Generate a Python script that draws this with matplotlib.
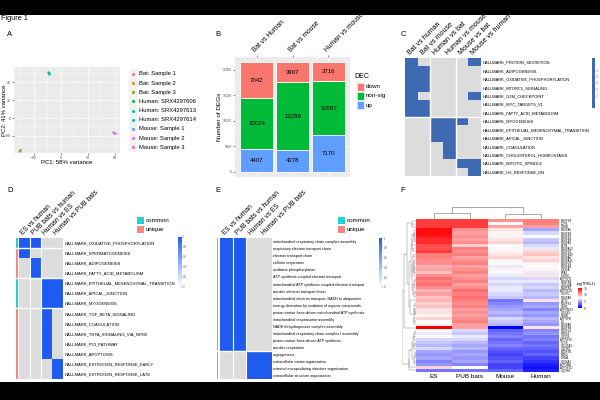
import numpy as np
import matplotlib
matplotlib.use('Agg')
import matplotlib.pyplot as plt
from matplotlib.colors import ListedColormap, LinearSegmentedColormap
from matplotlib.patches import Rectangle

plt.rcParams['font.family'] = ['Liberation Sans', 'DejaVu Sans']

# ---------------- data ----------------
# Panel A: PCA
pca_samples = ['Bat: Sample 1', 'Bat: Sample 2', 'Bat: Sample 3',
               'Human: SRX4297606', 'Human: SRX4297613', 'Human: SRX4297614',
               'Mouse: Sample 1', 'Mouse: Sample 2', 'Mouse: Sample 3']
pca_pc1 = [-46.5, -45.5, -45.0, -14.5, -13.5, -13.0, 58.0, 59.0, 60.0]
pca_pc2 = [-36.5, -36.0, -35.2, 51.2, 50.5, 49.3, -15.5, -16.2, -17.0]
pca_colors = ['#F8766D', '#D39200', '#93AA00', '#00BA38', '#00C19F',
              '#00B9E3', '#619CFF', '#DB72FB', '#FF61C3']

# Panel B: DEGs
deg_comparisons = ['Bat vs Human', 'Bat vs mouse', 'Human vs mouse']
deg_up = [4407, 4278, 7170]
deg_nonsig = [10024, 13288, 10587]
deg_down = [7042, 3907, 3716]
deg_classes = ['down', 'non-sig', 'up']
deg_colors = ['#F8766D', '#00BA38', '#619CFF']

# Panel C
comparisons_c = ['Bat vs human', 'Bat vs mouse', 'Human vs bat',
                 'Human vs mouse', 'Mouse vs bat', 'Mouse vs human']
hallmark_c = ['HALLMARK_PROTEIN_SECRETION', 'HALLMARK_ADIPOGENESIS',
              'HALLMARK_OXIDATIVE_PHOSPHORYLATION', 'HALLMARK_MTORC1_SIGNALING',
              'HALLMARK_G2M_CHECKPOINT', 'HALLMARK_MYC_TARGETS_V1',
              'HALLMARK_FATTY_ACID_METABOLISM', 'HALLMARK_MYOGENESIS',
              'HALLMARK_EPITHELIAL_MESENCHYMAL_TRANSITION', 'HALLMARK_APICAL_JUNCTION',
              'HALLMARK_COAGULATION', 'HALLMARK_CHOLESTEROL_HOMEOSTASIS',
              'HALLMARK_MITOTIC_SPINDLE', 'HALLMARK_UV_RESPONSE_DN']
sig_c = [[1, 0, 0, 0, 0, 1],
         [1, 1, 0, 0, 0, 0],
         [1, 1, 0, 0, 0, 0],
         [1, 1, 0, 0, 0, 0],
         [1, 0, 0, 0, 0, 1],
         [1, 1, 0, 0, 0, 0],
         [1, 1, 0, 0, 0, 0],
         [0, 0, 1, 1, 1, 0],
         [0, 0, 1, 1, 0, 0],
         [0, 0, 1, 1, 0, 0],
         [0, 0, 0, 1, 0, 0],
         [0, 0, 0, 1, 0, 0],
         [0, 0, 0, 0, 1, 1],
         [0, 0, 0, 0, 0, 1]]

# Panels D & E
comparisons_de = ['ES vs human', 'PUB bats vs human', 'Human vs ES', 'Human vs PUB bats']
hallmark_d = ['HALLMARK_OXIDATIVE_PHOSPHORYLATION', 'HALLMARK_SPERMATOGENESIS',
              'HALLMARK_ADIPOGENESIS', 'HALLMARK_FATTY_ACID_METABOLISM',
              'HALLMARK_EPITHELIAL_MESENCHYMAL_TRANSITION', 'HALLMARK_APICAL_JUNCTION',
              'HALLMARK_MYOGENESIS', 'HALLMARK_TGF_BETA_SIGNALING', 'HALLMARK_COAGULATION',
              'HALLMARK_TNFA_SIGNALING_VIA_NFKB', 'HALLMARK_P53_PATHWAY',
              'HALLMARK_APOPTOSIS', 'HALLMARK_ESTROGEN_RESPONSE_EARLY',
              'HALLMARK_ESTROGEN_RESPONSE_LATE']
group_d = ['common', 'unique', 'unique', 'unique', 'common', 'common', 'common',
           'unique', 'unique', 'unique', 'unique', 'unique', 'unique', 'unique']
sig_d = [[1, 1, 0, 0],
         [1, 0, 0, 0],
         [0, 1, 0, 0],
         [0, 1, 0, 0],
         [0, 0, 1, 1],
         [0, 0, 1, 1],
         [0, 0, 1, 1],
         [0, 0, 1, 0],
         [0, 0, 1, 0],
         [0, 0, 1, 0],
         [0, 0, 1, 0],
         [0, 0, 1, 0],
         [0, 0, 0, 1],
         [0, 0, 0, 1]]
go_e = ['mitochondrial respiratory chain complex assembly',
        'respiratory electron transport chain', 'electron transport chain',
        'cellular respiration', 'oxidative phosphorylation',
        'ATP synthesis coupled electron transport',
        'mitochondrial ATP synthesis coupled electron transport',
        'aerobic electron transport chain',
        'mitochondrial electron transport, NADH to ubiquinone',
        'energy derivation by oxidation of organic compounds',
        'proton motive force-driven mitochondrial ATP synthesis',
        'mitochondrial respirasome assembly', 'NADH dehydrogenase complex assembly',
        'mitochondrial respiratory chain complex I assembly',
        'proton motive force-driven ATP synthesis', 'aerobic respiration',
        'angiogenesis', 'extracellular matrix organization',
        'external encapsulating structure organization',
        'extracellular structure organization']
group_e = ['unique'] * 20
sig_e = [[1, 1, 0, 0]] * 16 + [[0, 0, 1, 1]] * 4

# Panel F
samples_f = ['ES', 'PUB bats', 'Mouse', 'Human']
genes_f = ['NDUFS8', 'LDHB', 'SDHB', 'NDUFA2', 'NDUFB2', 'NDUFS6', 'NDUFB9', 'NDUFA3',
           'ETFB', 'NDUFA13', 'NDUFS3', 'NDUFB10', 'NDUFA6', 'NDUFA11', 'NDUFV2',
           'NDUFB3', 'COX5A', 'PPA2', 'COX6C', 'ATP5PO', 'NDUFB4', 'COQ10A', 'NDUFB6',
           'ATP5F1E', 'COX7C', 'NDUFA9', 'GOT2', 'NDUFS1', 'SDHC', 'ATP5MC3', 'COX4I1',
           'PDHB', 'ATP5PB', 'CS', 'NDUFA8', 'NDUFB8', 'NDUFV1', 'PRDX3', 'COX7B',
           'ATP5F1C', 'CYCS', 'SLC25A3', 'UQCRQ', 'NDUFS2', 'MDH2', 'IDH3A', 'COX6A1',
           'ATP5ME', 'ATP5F1D', 'UQCRH']
es_vals = [13.5, 13.5, 13.5, 15.0, 15.0, 14.5, 14.0, 14.0, 13.0, 13.0, 13.5, 11.5, 11.5,
           11.0, 11.0, 10.0, 10.5, 9.5, 11.0, 12.0, 11.5, 12.0, 11.0, 10.0, 10.5, 9.5,
           10.0, 9.0, 9.5, 8.5, 8.5, 8.0, 9.0, 7.5, 8.0, 15.3, 7.5, 7.0, 7.5, 6.5, 6.0,
           5.5, 6.5, 5.0, 4.5, 5.0, 4.0, 4.5, 9.0, 3.5]
pub_vals = [13.5, 13.5, 13.5, 11.0, 10.5, 11.0, 10.5, 11.0, 9.0, 11.5, 11.0, 11.5, 10.5,
            11.0, 11.5, 10.5, 11.0, 11.5, 10.5, 11.0, 11.5, 10.5, 11.0, 12.0, 11.5, 12.0,
            11.5, 11.0, 11.5, 10.5, 11.0, 10.5, 11.0, 11.5, 10.5, 10.5, 6.5, 6.0, 7.0,
            6.5, 5.5, 5.0, 5.5, 4.5, 5.0, 4.5, 5.0, 4.0, 7.5, 3.5]
mouse_vals = [11.0, 7.5, 10.5, 8.5, 8.0, 8.0, 8.5, 9.0, 7.5, 8.0, 8.0, 8.5, 9.0, 8.0,
              7.5, 7.0, 8.0, 7.5, 7.0, 6.5, 7.0, 6.5, 7.0, 7.0, 6.5, 6.0, 3.5, 4.0, 4.5,
              5.0, 5.5, 5.0, 6.5, 6.0, 5.5, 0.0, 3.0, 3.5, 4.0, 3.0, 3.5, 4.0, 3.0, 2.5,
              2.0, 2.5, 3.0, 2.0, 2.0, 3.0]
human_vals = [11.5, 11.5, 10.5, 5.0, 6.5, 7.5, 6.0, 5.5, 6.5, 7.0, 9.0, 9.5, 8.5, 9.0,
              8.0, 7.5, 8.0, 7.0, 8.5, 6.5, 7.0, 6.0, 6.5, 5.5, 6.0, 5.5, 8.5, 4.5, 5.0,
              4.0, 5.0, 4.5, 5.5, 5.0, 4.5, 8.5, 4.0, 4.5, 3.5, 4.0, 3.0, 3.5, 3.0, 2.5,
              3.0, 2.0, 1.5, 1.0, 0.5, 1.0]

# ---------------- helpers ----------------
W, H = 600, 400
fig = plt.figure(figsize=(6, 4), dpi=100)
fig.patch.set_facecolor('white')


def ax_px(x0, y0, x1, y1):
    return fig.add_axes([x0 / W, 1 - y1 / H, (x1 - x0) / W, (y1 - y0) / H])


def txt(x, y, s, **kw):
    return fig.text(x / W, 1 - y / H, s, **kw)


overlay = ax_px(0, 0, 600, 400)
overlay.set_xlim(0, 600)
overlay.set_ylim(400, 0)
overlay.axis('off')
overlay.add_patch(Rectangle((0, 0), 600, 15, fc='black', ec='none'))
overlay.add_patch(Rectangle((0, 382), 600, 18, fc='black', ec='none'))

txt(1, 18.5, 'Figure 1', fontsize=5.3, va='center')
for lab, (x, y) in zip('ABCDEF', [(7, 34), (215, 34), (401, 34), (7, 191), (215, 191), (400, 191)]):
    txt(x, y, lab, fontsize=5.5, va='center')

# ---------------- Panel A ----------------
axA = ax_px(14, 67, 120, 153)
axA.set_facecolor('#EBEBEB')
axA.set_xlim(-52.2, 65.6)
axA.set_ylim(-38.9, 56.7)
axA.set_xticks([-30, 0, 30, 60])
axA.set_yticks([-20, 0, 20, 40])
axA.set_xticks([-45, -15, 15, 45], minor=True)
axA.set_yticks([-30, -10, 10, 30, 50], minor=True)
axA.grid(which='major', color='white', lw=0.5)
axA.grid(which='minor', color='white', lw=0.25)
axA.set_axisbelow(True)
for s in axA.spines.values():
    s.set_visible(False)
axA.tick_params(which='major', length=1.5, width=0.4, color='#333333', labelsize=2.5,
                labelcolor='#4D4D4D', pad=1)
axA.tick_params(which='minor', length=0)
for i in range(len(pca_samples)):
    axA.scatter(pca_pc1[i], pca_pc2[i], s=3, color=pca_colors[i], zorder=3, linewidths=0)
txt(67, 162.5, 'PC1: 58% variance', fontsize=4.3, ha='center', va='center')
txt(4.5, 110, 'PC2: 41% variance', fontsize=4.3, ha='center', va='center', rotation=90)
for i, (name, c) in enumerate(zip(pca_samples, pca_colors)):
    yy = 74 + i * 9.15
    overlay.add_patch(Rectangle((129, yy - 4.55), 8, 9.1, fc='#F2F2F2', ec='none'))
    overlay.plot(133, yy, 'o', ms=2.2, color=c, mec='none')
    txt(139, yy, name, fontsize=4.2, va='center')

# ---------------- Panel B ----------------
axB = ax_px(235, 57, 350, 177)
axB.set_facecolor('#EBEBEB')
xb = np.arange(1, len(deg_comparisons) + 1)
up = np.array(deg_up)
ns = np.array(deg_nonsig)
dn = np.array(deg_down)
for vals, bottom, col in [(up, 0 * up, deg_colors[2]), (ns, up, deg_colors[1]),
                          (dn, up + ns, deg_colors[0])]:
    axB.bar(xb, vals, bottom=bottom, width=0.9, color=col, edgecolor='white', lw=0.6, zorder=2)
    for xi, v, b in zip(xb, vals, bottom):
        axB.text(xi, b + v / 2, str(v), ha='center', va='center', fontsize=4.3, zorder=3)
tot = (up + ns + dn).max()
axB.set_xlim(0.4, 3.6)
axB.set_ylim(-0.05 * tot, 1.05 * tot)
axB.set_yticks([0, 5000, 10000, 15000, 20000])
axB.set_yticklabels(['0', '5000', '10000', '15000', '20000'])
axB.set_yticks([2500, 7500, 12500, 17500], minor=True)
axB.set_xticks(xb)
axB.grid(which='major', color='white', lw=0.5)
axB.grid(which='minor', axis='y', color='white', lw=0.25)
axB.set_axisbelow(True)
for s in axB.spines.values():
    s.set_visible(False)
axB.xaxis.tick_top()
axB.set_xticklabels(deg_comparisons, rotation=45, ha='left', rotation_mode='anchor', fontsize=4.8)
axB.tick_params(axis='y', which='major', length=1.5, width=0.4, color='#333333', labelsize=2.3,
                labelcolor='#4D4D4D', pad=1)
axB.tick_params(axis='x', which='major', length=1.5, width=0.4, color='#333333', pad=1)
axB.tick_params(which='minor', length=0)
txt(220, 117, 'Number of DEGs', fontsize=4.6, ha='center', va='center', rotation=90)
txt(354, 77, 'DEC', fontsize=5, va='center')
for i, (cls, col) in enumerate(zip(deg_classes, deg_colors)):
    yy = 86.7 + i * 9.2
    overlay.add_patch(Rectangle((356, yy - 4.6), 8, 9.2, fc='#F2F2F2', ec='none'))
    overlay.add_patch(Rectangle((356.5, yy - 4.1), 7, 8.2, fc=col, ec='white', lw=0.4))
    txt(366, yy, cls, fontsize=4.5, va='center')

# ---------------- Panel C ----------------
blue_c = '#3E6AB4'
axC = ax_px(405, 58, 481, 176)
mc = np.array(sig_c, dtype=float)
axC.pcolormesh(np.arange(mc.shape[1] + 1), np.arange(mc.shape[0] + 1), mc,
               cmap=ListedColormap(['#DCDCDC', blue_c]), vmin=0, vmax=1)
axC.set_xlim(0, mc.shape[1])
axC.set_ylim(mc.shape[0], 0)
for xg in [2, 4]:
    axC.axvline(xg, color='white', lw=1.0)
axC.axhline(7, color='white', lw=1.0)
for s in axC.spines.values():
    s.set_visible(False)
axC.xaxis.tick_top()
axC.set_xticks(np.arange(mc.shape[1]) + 0.5)
axC.set_xticklabels(comparisons_c, rotation=45, ha='left', rotation_mode='anchor', fontsize=5)
axC.yaxis.tick_right()
axC.set_yticks(np.arange(mc.shape[0]) + 0.5)
axC.set_yticklabels(hallmark_c, fontsize=2.9)
axC.tick_params(length=0, pad=1.2)

cbC = ax_px(592, 58, 595, 108)
cbC.imshow(np.ones((10, 1)), cmap=ListedColormap([blue_c]), aspect='auto',
           extent=(0, 1, 0.98, 1.02))
cbC.set_xticks([])
cbC.yaxis.tick_right()
cbC.set_ylim(0.98, 1.02)
cbC.set_yticks([0.99, 0.995, 1.0, 1.005, 1.01])
cbC.set_yticklabels(['1', '1', '1', '1', '1'], fontsize=1.8)
cbC.tick_params(length=0.8, width=0.3, pad=0.5, colors='#555555')
for s in cbC.spines.values():
    s.set_visible(False)

# ---------------- Panels D & E ----------------
blue_de = '#1F5BEF'
cmap_de = LinearSegmentedColormap.from_list('wb', ['#FFFFFF', blue_de])
cmap_de.set_bad('#DCDCDC')
ann_colors = {'common': '#22D2D2', 'unique': '#F5877E'}


def sig_heatmap(box, ann_box, sig, rows, groups, row_gaps, col_gaps, fs_rows):
    m = np.array(sig, dtype=float)
    m = np.ma.masked_where(m == 0, m)
    ax = ax_px(*box)
    ax.pcolormesh(np.arange(m.shape[1] + 1), np.arange(m.shape[0] + 1), m,
                  cmap=cmap_de, vmin=0, vmax=1)
    ax.set_xlim(0, m.shape[1])
    ax.set_ylim(m.shape[0], 0)
    for g in row_gaps:
        ax.axhline(g, color='white', lw=1.0)
    for g in col_gaps:
        ax.axvline(g, color='white', lw=0.8)
    for s in ax.spines.values():
        s.set_visible(False)
    ax.xaxis.tick_top()
    ax.set_xticks(np.arange(m.shape[1]) + 0.5)
    ax.set_xticklabels(comparisons_de, rotation=45, ha='left', rotation_mode='anchor', fontsize=4.8)
    ax.yaxis.tick_right()
    ax.set_yticks(np.arange(m.shape[0]) + 0.5)
    ax.set_yticklabels(rows, fontsize=fs_rows)
    ax.tick_params(length=0, pad=1.2)
    axa = ax_px(*ann_box)
    gnames = ['common', 'unique']
    gi = np.array([[gnames.index(g)] for g in groups], dtype=float)
    axa.pcolormesh([0, 1], np.arange(len(groups) + 1), gi,
                   cmap=ListedColormap([ann_colors['common'], ann_colors['unique']]), vmin=0, vmax=1)
    axa.set_ylim(len(groups), 0)
    for g in row_gaps:
        axa.axhline(g, color='white', lw=1.0)
    axa.axis('off')


def grad_bar(box, cmap, vmin, vmax, ticks, labels, fs):
    ax = ax_px(*box)
    grad = np.linspace(vmin, vmax, 200)[:, None]
    ax.imshow(grad, aspect='auto', cmap=cmap, vmin=vmin, vmax=vmax, origin='lower',
              extent=(0, 1, vmin, vmax))
    ax.set_xticks([])
    ax.yaxis.tick_right()
    ax.set_yticks(ticks)
    ax.set_yticklabels(labels, fontsize=fs)
    ax.tick_params(length=0.8, width=0.3, pad=0.6, colors='#555555')
    for s in ax.spines.values():
        s.set_visible(False)
    return ax


sig_heatmap((19.3, 237.7, 63.3, 379), (15.7, 237.7, 17.7, 379), sig_d, hallmark_d, group_d,
            [1, 4, 7], [1, 2], 3.0)
grad_bar((178, 237, 181, 287), cmap_de, 0, 1, [0, 0.2, 0.4, 0.6, 0.8, 1],
         ['0', '0.2', '0.4', '0.6', '0.8', '1'], 2.0)
sig_heatmap((220, 238.3, 271.7, 379), (216.7, 238.3, 218.3, 379), sig_e, go_e, group_e,
            [16], [1, 2], 2.7)
grad_bar((379, 238, 382, 287), cmap_de, 0, 1, [0, 0.2, 0.4, 0.6, 0.8, 1],
         ['0', '0.2', '0.4', '0.6', '0.8', '1'], 2.0)
for xk in [137, 338]:
    for i, g in enumerate(['common', 'unique']):
        yy = 220.5 + i * 9
        overlay.add_patch(Rectangle((xk, yy - 3.6), 7, 7.2, fc=ann_colors[g], ec='none'))
        txt(xk + 9, yy, g, fontsize=4.5, va='center')

# ---------------- Panel F ----------------
mf = np.array([es_vals, pub_vals, mouse_vals, human_vals]).T
cmap_f = LinearSegmentedColormap.from_list('bwr_f', ['#0000FF', '#FFFFFF', '#FF0000'])
vmin_f, vmax_f = mf.min(), mf.max()
axF = ax_px(416, 219.3, 559, 371.7)
axF.pcolormesh(np.arange(mf.shape[1] + 1), np.arange(mf.shape[0] + 1), mf,
               cmap=cmap_f, vmin=vmin_f, vmax=vmax_f)
axF.set_xlim(0, mf.shape[1])
axF.set_ylim(mf.shape[0], 0)
for s in axF.spines.values():
    s.set_visible(False)
axF.set_xticks(np.arange(mf.shape[1]) + 0.5)
axF.set_xticklabels(samples_f, fontsize=4.6)
axF.yaxis.tick_right()
axF.set_yticks(np.arange(mf.shape[0]) + 0.5)
axF.set_yticklabels(genes_f, fontsize=2.0)
axF.tick_params(length=0, pad=1)
axF.tick_params(axis='x', pad=1.5)


def adjacent_linkage(data):
    n = data.shape[0]
    dist = np.sqrt(((data[:, None, :] - data[None, :, :]) ** 2).sum(-1))
    clusters = [{'m': [i], 'pos': i + 0.5, 'h': 0.0} for i in range(n)]
    merges = []
    while len(clusters) > 1:
        best = None
        for k in range(len(clusters) - 1):
            a, b = clusters[k], clusters[k + 1]
            d = dist[np.ix_(a['m'], b['m'])].mean()
            if best is None or d < best[0]:
                best = (d, k)
        d, k = best
        a, b = clusters[k], clusters[k + 1]
        h = max(d, a['h'], b['h'])
        merges.append((a['pos'], a['h'], b['pos'], b['h'], h))
        clusters[k:k + 2] = [{'m': a['m'] + b['m'], 'pos': (a['pos'] + b['pos']) / 2, 'h': h}]
    return merges


dcol = '#888888'
row_merges = adjacent_linkage(mf)
axRD = ax_px(402, 219.3, 416, 371.7)
hmax = max(m[4] for m in row_merges)
for pa, ha, pb, hb, h in row_merges:
    axRD.plot([ha, h, h, hb], [pa, pa, pb, pb], color=dcol, lw=0.35)
axRD.set_xlim(hmax * 1.02, 0)
axRD.set_ylim(mf.shape[0], 0)
axRD.axis('off')

col_merges = adjacent_linkage(mf.T)
axCD = ax_px(416, 207, 559, 218.5)
hmax_c = max(m[4] for m in col_merges)
for pa, ha, pb, hb, h in col_merges:
    axCD.plot([pa, pa, pb, pb], [ha, h, h, hb], color=dcol, lw=0.5)
axCD.set_xlim(0, mf.shape[1])
axCD.set_ylim(0, hmax_c * 1.03)
axCD.axis('off')

grad_bar((578, 288, 582, 308), cmap_f, vmin_f, vmax_f, [0, 5, 10, 15],
         ['0', '5', '10', '15'], 2.6)
txt(577, 284, 'log(TPM+1)', fontsize=2.6, va='center')

fig.savefig('out.png', dpi=100)
